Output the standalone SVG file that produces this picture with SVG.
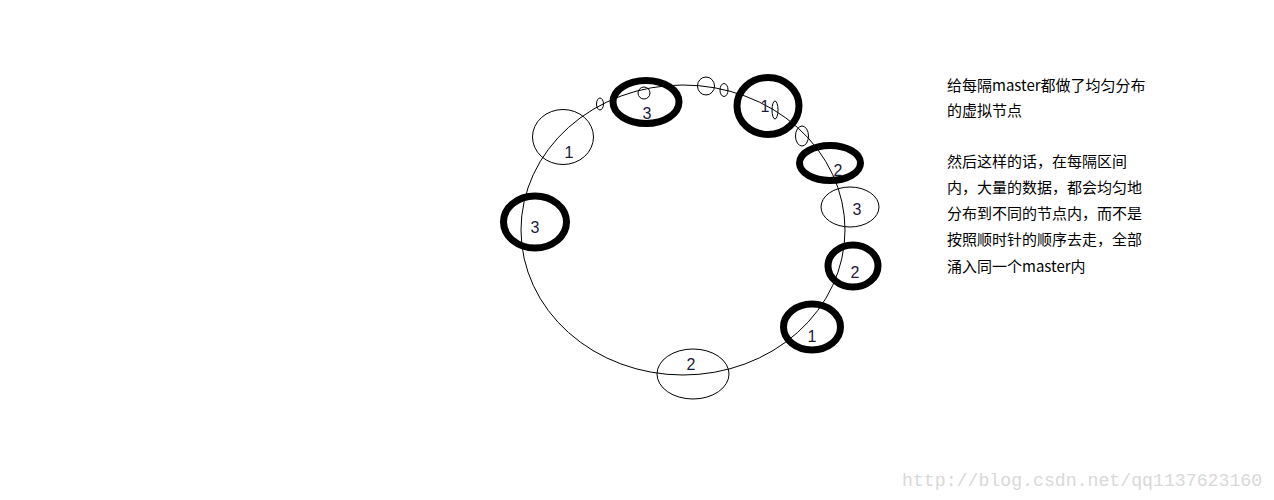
<svg xmlns="http://www.w3.org/2000/svg" width="1274" height="500" viewBox="0 0 1274 500">
<style>
.ring{fill:none;stroke:#000;stroke-width:1}
.thin{fill:none;stroke:#000;stroke-width:1}
.thick{fill:none;stroke:#000;stroke-width:7}
.num{font-family:"Liberation Sans",Arial,sans-serif;font-size:16px;fill:#1b1b3a;text-anchor:middle}
.note{font-family:"Noto Sans CJK SC","Noto Sans",sans-serif;font-size:15px;fill:#000}
.wm{font-family:"Liberation Mono",monospace;font-size:18.2px;fill:#d9d9d9}
</style>
<rect width="1274" height="500" fill="#fff"/>
<g id="connectors">
<ellipse class="ring" cx="683" cy="230" rx="162" ry="145"/>
</g>
<g id="small-nodes">
<ellipse class="thin" cx="600" cy="104" rx="3.5" ry="6"/>
<ellipse class="thin" cx="644" cy="93" rx="6" ry="6"/>
<ellipse class="thin" cx="706" cy="86" rx="8.5" ry="9"/>
<ellipse class="thin" cx="724" cy="90" rx="4" ry="6.5"/>
<ellipse class="thin" cx="775" cy="110" rx="3" ry="9"/>
<ellipse class="thin" cx="802" cy="136" rx="6.5" ry="10"/>
</g>
<g id="node-3-top"><ellipse class="thick" cx="646" cy="102" rx="33" ry="21.5"/><text class="num" x="647" y="119">3</text></g>
<g id="node-1-topright"><ellipse class="thick" cx="768" cy="106" rx="31" ry="28.5"/><text class="num" x="765" y="112">1</text></g>
<g id="node-2-right"><ellipse class="thick" cx="830" cy="163" rx="30.5" ry="17.5"/><text class="num" x="838" y="176">2</text></g>
<g id="node-3-left"><ellipse class="thick" cx="535" cy="222" rx="31.5" ry="26"/><text class="num" x="535" y="233">3</text></g>
<g id="node-2-rightlow"><ellipse class="thick" cx="853" cy="266" rx="25" ry="21"/><text class="num" x="855" y="278">2</text></g>
<g id="node-1-low"><ellipse class="thick" cx="812" cy="327" rx="28.5" ry="23"/><text class="num" x="812" y="342">1</text></g>
<g id="node-1-left"><ellipse class="thin" cx="563" cy="137" rx="30.5" ry="27.5"/><text class="num" x="569" y="158">1</text></g>
<g id="node-3-right"><ellipse class="thin" cx="850" cy="207" rx="29" ry="20"/><text class="num" x="857" y="215">3</text></g>
<g id="node-2-bottom"><ellipse class="thin" cx="693" cy="374" rx="36" ry="25"/><text class="num" x="691" y="370">2</text></g>
<g id="note">
<text class="note" x="947" y="91">给每隔master都做了均匀分布</text>
<text class="note" x="947" y="116">的虚拟节点</text>
<text class="note" x="947" y="167">然后这样的话，在每隔区间</text>
<text class="note" x="947" y="193">内，大量的数据，都会均匀地</text>
<text class="note" x="947" y="219">分布到不同的节点内，而不是</text>
<text class="note" x="947" y="245">按照顺时针的顺序去走，全部</text>
<text class="note" x="947" y="272">涌入同一个master内</text>
</g>
<text class="wm" x="902" y="486">http://blog.csdn.net/qq1137623160</text>
</svg>
